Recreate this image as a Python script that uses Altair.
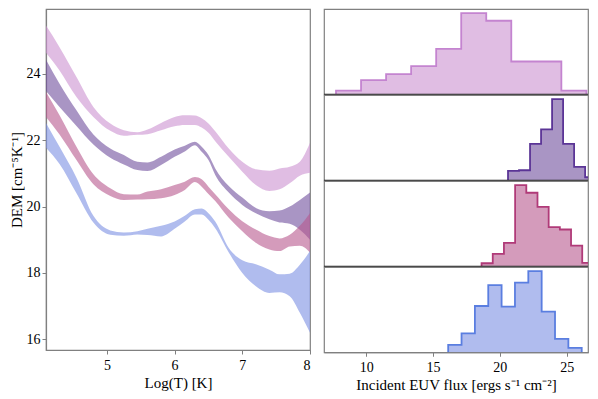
import altair as alt
import pandas as pd

# ---------------- DEM bands (left panel) ----------------
logT = [4.1, 4.3, 4.55, 4.8, 5.05, 5.25, 5.45, 5.6, 5.8, 6.0, 6.15, 6.3, 6.4,
        6.5, 6.6, 6.8, 7.0, 7.2, 7.4, 7.55, 7.7, 7.85, 8.0]

orchid_hi = [25.45, 24.8, 23.9, 23.0, 22.5, 22.3, 22.24, 22.32, 22.52, 22.7, 22.75, 22.74, 22.66,
             22.5, 22.27, 21.75, 21.35, 21.12, 21.08, 21.15, 21.2, 21.35, 21.92]
orchid_lo = [24.63, 24.1, 23.3, 22.7, 22.28, 22.13, 22.16, 22.18, 22.3, 22.42, 22.46, 22.46, 22.38,
             22.22, 21.97, 21.5, 21.05, 20.65, 20.47, 20.52, 20.7, 20.93, 21.02]

purple_hi = [24.42, 23.7, 22.9, 22.17, 21.75, 21.55, 21.35, 21.33, 21.5, 21.72, 21.83, 21.95, 21.8,
             21.55, 21.15, 20.62, 20.27, 19.96, 19.86, 19.88, 20.0, 20.2, 20.42]
purple_lo = [23.48, 23.0, 22.43, 21.87, 21.47, 21.27, 21.1, 21.07, 21.25, 21.5, 21.66, 21.85, 21.65,
             21.4, 20.95, 20.42, 20.05, 19.8, 19.62, 19.52, 19.48, 19.3, 19.0]

pink_hi = [23.45, 22.75, 21.8, 20.97, 20.55, 20.37, 20.36, 20.45, 20.52, 20.65, 20.75, 20.89, 20.82,
           20.6, 20.37, 19.92, 19.56, 19.31, 19.11, 19.04, 19.15, 19.42, 19.8]
pink_lo = [22.7, 22.17, 21.4, 20.67, 20.32, 20.2, 20.21, 20.22, 20.25, 20.35, 20.5, 20.74, 20.6,
           20.38, 20.17, 19.66, 19.26, 18.91, 18.71, 18.66, 18.8, 18.82, 18.62]

blue_hi = [22.52, 21.8, 20.87, 19.72, 19.28, 19.22, 19.26, 19.33, 19.42, 19.55, 19.72, 19.92, 19.94,
           19.8, 19.55, 18.75, 18.38, 18.26, 18.1, 17.96, 17.98, 18.25, 18.66]
blue_lo = [21.77, 21.28, 20.4, 19.52, 19.15, 19.12, 19.16, 19.14, 19.1, 19.33, 19.55, 19.76, 19.76,
           19.6, 19.35, 18.62, 18.0, 17.6, 17.4, 17.42, 17.3, 16.8, 16.2]

# ---------------- EUV flux histograms (right panel) ----------------
orchid_start, orchid_width = 7.73, 1.875
orchid_counts = [11, 42, 60, 84, 136, 243, 220, 98, 98, 11]

purple_start, purple_width = 20.61, 0.825
purple_counts = [28, 30, 109, 152, 243, 109, 40, 9]

pink_start, pink_width = 18.63, 0.8375
pink_counts = [9, 37, 70, 243, 220, 178, 117, 110, 62, 10]

blue_start, blue_width = 16.13, 1.0
blue_counts = [22, 57, 139, 202, 137, 209, 244, 122, 40, 13]

# colours
band_colors = {"orchid": "#cb91d0", "purple": "#704e9d", "pink": "#b7588e", "blue": "#7b8fe3"}
edge_colors = {"orchid": "#c484d0", "purple": "#5b3596", "pink": "#b03a78", "blue": "#5a7ee0"}

FONT = "Liberation Serif"
GRAY = "#808080"

# ---------------- left panel ----------------
xscale_L = alt.Scale(domain=[4.1, 8.0], nice=False, zero=False)
yscale_L = alt.Scale(domain=[15.68, 25.95], nice=False, zero=False)

bands = [("orchid", orchid_hi, orchid_lo), ("purple", purple_hi, purple_lo),
         ("pink", pink_hi, pink_lo), ("blue", blue_hi, blue_lo)]

layers = []
for name, hi, lo in bands:
    d = pd.DataFrame({"logT": logT, "hi": hi, "lo": lo})
    layers.append(
        alt.Chart(d).mark_area(interpolate="monotone", color=band_colors[name], opacity=0.6, clip=True)
        .encode(
            x=alt.X("logT:Q", scale=xscale_L,
                    axis=alt.Axis(values=[5, 6, 7, 8], title="Log(T) [K]", format="d",
                                  labelPadding=4, titlePadding=3)),
            y=alt.Y("hi:Q", scale=yscale_L, stack=None,
                    axis=alt.Axis(values=[16, 18, 20, 22, 24], title="DEM [cm⁻⁵K⁻¹]", format="d",
                                  labelPadding=2, titlePadding=2)),
            y2="lo:Q",
        )
    )
left = alt.layer(*layers).properties(width=264, height=341)

# ---------------- right panel ----------------
xscale_R = alt.Scale(domain=[6.83, 26.6], nice=False, zero=False)

hists = [("orchid", orchid_start, orchid_width, orchid_counts),
         ("purple", purple_start, purple_width, purple_counts),
         ("pink", pink_start, pink_width, pink_counts),
         ("blue", blue_start, blue_width, blue_counts)]

rows = []
for k, (name, start, width, counts) in enumerate(hists):
    n = len(counts)
    edges = [start + i * width for i in range(n + 1)]
    fill_df = pd.DataFrame({"x": edges, "y": counts + [counts[-1]], "z": 0})
    ox = [edges[0]] + edges[:n] + [edges[n], edges[n]]
    oy = [0] + counts + [counts[-1], 0]
    out_df = pd.DataFrame({"x": ox, "y": oy, "i": list(range(len(ox)))})
    ysc = alt.Scale(domain=[0, max(counts) * 1.05], nice=False, zero=True)
    if k == 3:
        xax = alt.Axis(values=[10, 15, 20, 25], title="Incident EUV flux [ergs s⁻¹ cm⁻²]", format="d",
                       labelPadding=4, titlePadding=3)
    else:
        xax = None
    area = alt.Chart(fill_df).mark_area(interpolate="step-after", color=band_colors[name],
                                        opacity=0.6, clip=True).encode(
        x=alt.X("x:Q", scale=xscale_R, axis=xax),
        y=alt.Y("y:Q", scale=ysc, axis=None),
        y2="z:Q",
    )
    line = alt.Chart(out_df).mark_line(interpolate="step-after", color=edge_colors[name],
                                       strokeWidth=1.8, clip=True).encode(
        x=alt.X("x:Q", scale=xscale_R, axis=xax),
        y=alt.Y("y:Q", scale=ysc, axis=None),
        order="i:Q",
    )
    parts = [area, line]
    if k < 3:
        sep = alt.Chart(pd.DataFrame({"z": [0]})).mark_rule(color="#222222", strokeWidth=1.0).encode(
            y=alt.Y("z:Q", scale=ysc, axis=None)
        )
        parts.append(sep)
    rows.append(alt.layer(*parts).properties(width=264, height=85.25))

right = alt.vconcat(*rows, spacing=0, bounds="flush")

chart = alt.hconcat(left, right, spacing=14, bounds="flush").properties(
    padding={"left": 0, "top": 0, "right": 0, "bottom": 0},
    background="white",
).configure_view(
    stroke=GRAY, strokeWidth=1.2
).configure_axis(
    grid=False,
    domainColor=GRAY,
    domainWidth=1.2,
    tickColor=GRAY,
    tickSize=4,
    tickWidth=1,
    labelFont=FONT,
    labelFontSize=14,
    labelColor="black",
    titleFont=FONT,
    titleFontSize=15,
    titleFontWeight="normal",
    titleColor="black",
)

chart.save("out.html", embed_options={"renderer": "svg", "actions": False})
